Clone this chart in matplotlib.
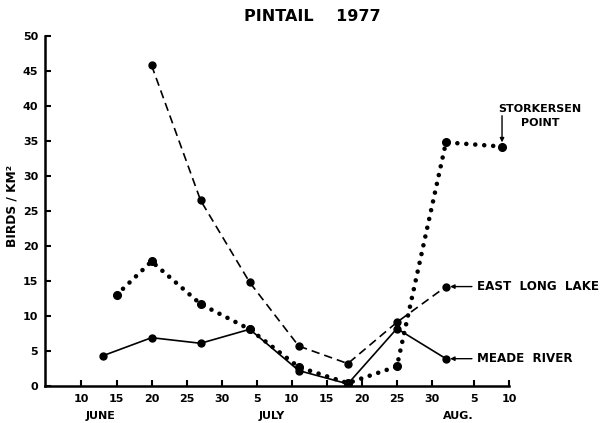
import matplotlib
matplotlib.use("Agg")
import matplotlib.pyplot as plt

plt.rcParams['font.family'] = ['Liberation Sans', 'DejaVu Sans']
plt.rcParams['font.weight'] = 'bold'

# x = day number: June d -> d, July d -> 30+d, Aug d -> 61+d
meade_x = [13, 20, 27, 34, 41, 48, 55, 62]
meade_y = [4.3, 6.9, 6.1, 8.1, 2.2, 0.3, 8.2, 3.9]

east_x = [20, 27, 34, 41, 48, 55, 62]
east_y = [45.8, 26.5, 14.8, 5.7, 3.2, 9.1, 14.2]

stork_x = [15, 20, 27, 34, 41, 48, 55, 62, 70]
stork_y = [13.0, 17.8, 11.7, 8.1, 2.7, 0.4, 2.8, 34.8, 34.2]

tick_pos = [10, 15, 20, 25, 30, 35, 40, 45, 50, 55, 60, 66, 71]
tick_lab = ['10', '15', '20', '25', '30', '5', '10', '15', '20', '25', '30', '5', '10']
month_lab = ['JUNE', 'JULY', 'AUG.']
month_pos = [12.7, 37.1, 63.8]

fig = plt.figure(figsize=(6.06, 4.23), dpi=100)
ax = fig.add_axes([0.0743, 0.0875, 0.7657, 0.8275])

ax.plot(meade_x, meade_y, color='black', lw=1.2, marker='o', ms=5, solid_joinstyle='miter')
ax.plot(east_x, east_y, color='black', lw=1.2, dashes=(5, 3), marker='o', ms=5)
ax.plot(stork_x, stork_y, color='black', lw=3.3, linestyle=(0, (0.01, 1.95)),
        dash_capstyle='round', marker='o', ms=5.5)

ax.set_xlim(4.8, 71)
ax.set_ylim(0, 50)
ax.set_yticks(range(0, 51, 5))
ax.set_xticks(tick_pos)
ax.set_xticklabels(tick_lab)
for s in ['top', 'right']:
    ax.spines[s].set_visible(False)
for s in ['left', 'bottom']:
    ax.spines[s].set_linewidth(1.8)
ax.tick_params(direction='in', length=4, width=1.5, labelsize=9, pad=6)
ax.tick_params(axis='y', pad=5)
for lab in ax.get_xticklabels() + ax.get_yticklabels():
    lab.set_fontweight('bold')
    lab.set_family(['DejaVu Sans'])
    lab.set_fontsize(8)

for m, p in zip(month_lab, month_pos):
    ax.text(p, -0.087, m, transform=ax.get_xaxis_transform(), ha='center', va='center',
            fontsize=8, fontweight='bold', family=['DejaVu Sans'])

ax.set_ylabel('BIRDS / KM²', fontsize=8.8, fontweight='bold', family=['DejaVu Sans'])
ax.yaxis.set_label_coords(-0.058, 0.514)

fig.text(0.515, 0.962, 'PINTAIL    1977', ha='center', va='center', fontsize=11.5,
         fontweight='heavy', family=['DejaVu Sans'])

arrow = dict(arrowstyle='-|>', color='black', lw=1.0, mutation_scale=6, shrinkB=3)
ax.annotate('EAST  LONG  LAKE', xy=(east_x[-1], east_y[-1]), xytext=(66.5, east_y[-1]),
            ha='left', va='center', fontsize=8.6, fontweight='bold', arrowprops=arrow,
            annotation_clip=False, family=['DejaVu Sans'])
ax.annotate('MEADE  RIVER', xy=(meade_x[-1], meade_y[-1]), xytext=(66.5, meade_y[-1]),
            ha='left', va='center', fontsize=8.6, fontweight='bold', arrowprops=arrow,
            annotation_clip=False, family=['DejaVu Sans'])
ax.annotate('', xy=(stork_x[-1], stork_y[-1]), xytext=(stork_x[-1], 39.0),
            arrowprops=dict(arrowstyle='-|>', color='black', lw=1.0, mutation_scale=6, shrinkB=3),
            annotation_clip=False)
ax.text(75.4, 38.6, 'STORKERSEN\nPOINT', ha='center', va='center', fontsize=8,
        fontweight='bold', linespacing=1.5, family=['DejaVu Sans'])

fig.savefig('out.png', dpi=100)
